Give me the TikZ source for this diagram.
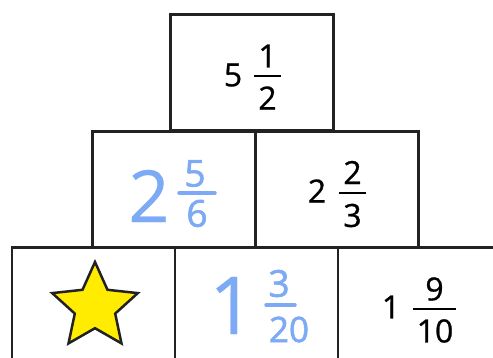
\documentclass[tikz,border=0pt]{standalone}
\usepackage{fontspec}
\setmainfont{Open Sans}
\newfontfamily\numfont[FakeBold=0.8]{Open Sans}
\newfontfamily\handfont[FakeBold=1.8]{Open Sans}
\newfontfamily\handbig[FakeBold=0.4]{Open Sans}
\definecolor{edge}{RGB}{34,34,34}
\definecolor{hand}{RGB}{125,170,245}
\definecolor{staryellow}{RGB}{255,236,0}
\begin{document}
\begin{tikzpicture}[x=1pt,y=-1pt,
  brick/.style={draw=edge, line width=2.5pt, minimum width=163pt, minimum height=116pt, inner sep=0pt, outer sep=0pt},
  num/.style={inner sep=0pt, text=black, font=\numfont\fontsize{32}{32}\selectfont},
  hnum/.style={inner sep=0pt, text=hand},
  bar/.style={line width=1.8pt, draw=black},
  hbar/.style={line width=3.5pt, draw=hand, line cap=round}]
\useasboundingbox (0,0) rectangle (493,358);
\clip (0,0) rectangle (493,358);
% bricks
\node[brick] (top) at (252,72.3) {};
\node[brick] (midL) at (174,189.5) {};
\node[brick] (midR) at (337,189.5) {};
\node[brick] (botL) at (93.5,305.5) {};
\node[brick] (botM) at (256.3,305.5) {};
\node[brick] (botR) at (419.5,305.5) {};
% top: 5 1/2
\node[num] (tw) at (233,75) {5};
\node[num] (tn) at (267.5,56) {1};
\node[num] (td) at (267.5,98) {2};
\draw[bar] (254,76) -- (281,76);
% middle right: 2 2/3
\node[num] (rw) at (317,191) {2};
\node[num] (rn) at (352.5,172.5) {2};
\node[num] (rd) at (352.5,215.5) {3};
\draw[bar] (339,193) -- (366,193);
% bottom right: 1 9/10
\node[num] (bw) at (391,307) {1};
\node[num] (bn) at (434.5,289) {9};
\node[num] (bd) at (435,331) {10};
\draw[bar] (413,309) -- (456,309);
% middle left (handwritten): 2 5/6
\node[hnum, font=\handbig\fontsize{72}{72}\selectfont] (hw) at (149,196) {2};
\node[hnum, font=\handfont\fontsize{37}{37}\selectfont] (hn) at (195,173.5) {5};
\node[hnum, font=\handfont\fontsize{37}{37}\selectfont] (hd) at (197,213.5) {6};
\draw[hbar] (179,193) -- (215,193);
% bottom middle (handwritten): 1 3/20
\node[hnum, font=\handbig\fontsize{80}{80}\selectfont] (hw2) at (232,305.5) {1};
\node[hnum, font=\handfont\fontsize{37}{37}\selectfont] (hn2) at (279,283.5) {3};
\node[hnum, font=\handfont\fontsize{35}{35}\selectfont] (hd2) at (289,329.5) {20};
\draw[hbar] (266,305) -- (295,305);
% star
\filldraw[fill=staryellow, draw=edge, line width=2.5pt, line join=miter]
  (95,262) -- (107.5,289.8) -- (137.8,293.1) -- (115.2,313.6) -- (121.5,343.4)
  -- (95,328.2) -- (68.5,343.4) -- (74.8,313.6) -- (52.2,293.1) -- (82.5,289.8) -- cycle;
\end{tikzpicture}
\end{document}
